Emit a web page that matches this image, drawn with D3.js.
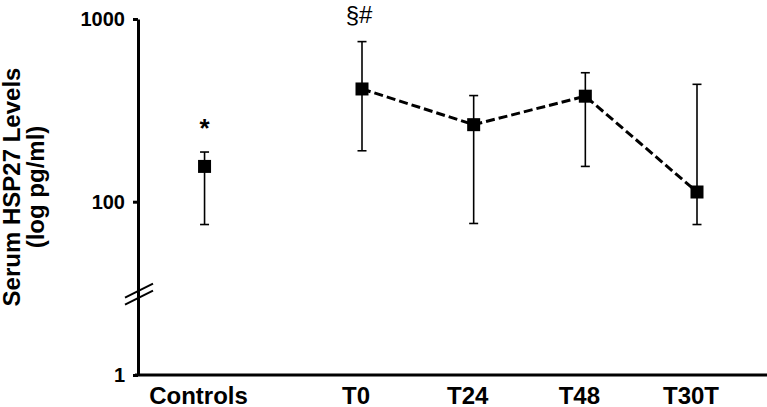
<!DOCTYPE html>
<html>
<head>
<meta charset="utf-8">
<script src="https://cdn.jsdelivr.net/npm/d3@7"></script>
<style>
  body { margin: 0; background: #fff; }
  svg { display: block; font-family: "Liberation Sans", Arial, sans-serif; }
  .tick-label { font-size: 20px; font-weight: bold; }
  .cat-label { font-size: 24px; font-weight: bold; }
  .axis-title { font-size: 24px; font-weight: bold; }
</style>
</head>
<body>
<div id="main"></div>
<script>
const width = 767;
const height = 407;

// data (pg/ml)
const categories = ['Controls', 'T0', 'T24', 'T48', 'T30T'];
const means = [156, 414, 264, 378, 113];
const upper = [187, 752, 381, 508, 439];
const lower = [75, 190, 76, 156, 75];
const notes = ['*', '§#', '', '', ''];
const yTicks = [1, 100, 1000];

const axisX = 138;
const yTop = 19;
const yBottom = 375;
const decade = 182.7;        // px per decade above the break
const breakValue = 30;

const svg = d3.select('#main')
  .append('svg')
    .attr('width', width)
    .attr('height', height);

// broken log axis: 1 sits at the bottom, everything from the break up is true log
const yScale = d3.scaleLog()
  .domain([1, breakValue, 1000])
  .range([yBottom, yTop + decade * Math.log10(1000 / breakValue), yTop]);

// timepoints evenly spaced, controls set apart on the left
const timepoints = categories.slice(1);
const xTime = d3.scalePoint()
  .domain(timepoints)
  .range([362, 697]);
const step = xTime.step();
const xValue = c => c === 'Controls' ? xTime('T0') - 1.41 * step : xTime(c);

const data = categories.map((c, i) => ({
  cat: c, mean: means[i], hi: upper[i], lo: lower[i], note: notes[i]
}));

// y axis
const yAxis = d3.axisLeft(yScale)
  .tickValues(yTicks)
  .tickFormat(d3.format('d'))
  .tickSize(5)
  .tickSizeOuter(0)
  .tickPadding(8);

const yAxisG = svg.append('g')
  .attr('transform', `translate(${axisX},0)`)
  .call(yAxis);
yAxisG.select('.domain').attr('stroke-width', 3);
yAxisG.selectAll('.tick line').attr('stroke-width', 3);
yAxisG.selectAll('.tick text')
  .attr('class', 'tick-label')
  .attr('fill', '#000')
  .attr('font-family', null)
  .attr('font-size', null);

// axis break marks
const breakY = yScale(breakValue) - 3;
[-3.5, 3.5].forEach(off => {
  svg.append('line')
    .attr('x1', axisX - 13).attr('y1', breakY + off + 7)
    .attr('x2', axisX + 15).attr('y2', breakY + off - 7)
    .attr('stroke', '#000')
    .attr('stroke-width', 2);
});

// x axis line
svg.append('line')
  .attr('x1', axisX - 3).attr('x2', width)
  .attr('y1', yBottom).attr('y2', yBottom)
  .attr('stroke', '#000')
  .attr('stroke-width', 3);

svg.selectAll('.cat-label')
  .data(data)
  .join('text')
    .attr('class', 'cat-label')
    .attr('x', d => xValue(d.cat) - 6)
    .attr('y', 404)
    .attr('text-anchor', 'middle')
    .text(d => d.cat);

// y axis title
const titleG = svg.append('g')
  .attr('transform', `translate(0,187) rotate(-90)`);
titleG.append('text')
  .attr('class', 'axis-title')
  .attr('x', 0).attr('y', 20)
  .attr('text-anchor', 'middle')
  .text('Serum HSP27 Levels');
titleG.append('text')
  .attr('class', 'axis-title')
  .attr('x', 0).attr('y', 44)
  .attr('text-anchor', 'middle')
  .text('(log pg/ml)');

// error bars
const cap = 4.5;
const bars = svg.selectAll('.err')
  .data(data)
  .join('g')
    .attr('class', 'err')
    .attr('stroke', '#000')
    .attr('stroke-width', 1.6);
bars.append('line')
  .attr('x1', d => xValue(d.cat)).attr('x2', d => xValue(d.cat))
  .attr('y1', d => yScale(d.hi)).attr('y2', d => yScale(d.lo));
bars.append('line')
  .attr('x1', d => xValue(d.cat) - cap).attr('x2', d => xValue(d.cat) + cap)
  .attr('y1', d => yScale(d.hi)).attr('y2', d => yScale(d.hi));
bars.append('line')
  .attr('x1', d => xValue(d.cat) - cap).attr('x2', d => xValue(d.cat) + cap)
  .attr('y1', d => yScale(d.lo)).attr('y2', d => yScale(d.lo));

// dashed line through the timepoints only
const lineGenerator = d3.line()
  .x(d => xValue(d.cat))
  .y(d => yScale(d.mean));
svg.append('path')
  .attr('d', lineGenerator(data.slice(1)))
  .attr('fill', 'none')
  .attr('stroke', '#000')
  .attr('stroke-width', 3)
  .attr('stroke-dasharray', '9,4');

// square markers
const size = 13;
svg.selectAll('.marker')
  .data(data)
  .join('rect')
    .attr('class', 'marker')
    .attr('x', d => xValue(d.cat) - size / 2)
    .attr('y', d => yScale(d.mean) - size / 2)
    .attr('width', size)
    .attr('height', size)
    .attr('fill', '#000');

// significance marks
svg.selectAll('.note')
  .data(data.filter(d => d.note))
  .join('text')
    .attr('class', 'note')
    .attr('x', d => xValue(d.cat) + (d.note === '*' ? 0 : -3))
    .attr('y', d => d.note === '*' ? yScale(d.hi) - 15 : yScale(d.hi) - 19)
    .attr('text-anchor', 'middle')
    .attr('font-size', d => d.note === '*' ? 26 : 24)
    .attr('font-weight', d => d.note === '*' ? 'bold' : 'normal')
    .text(d => d.note);
</script>
</body>
</html>
